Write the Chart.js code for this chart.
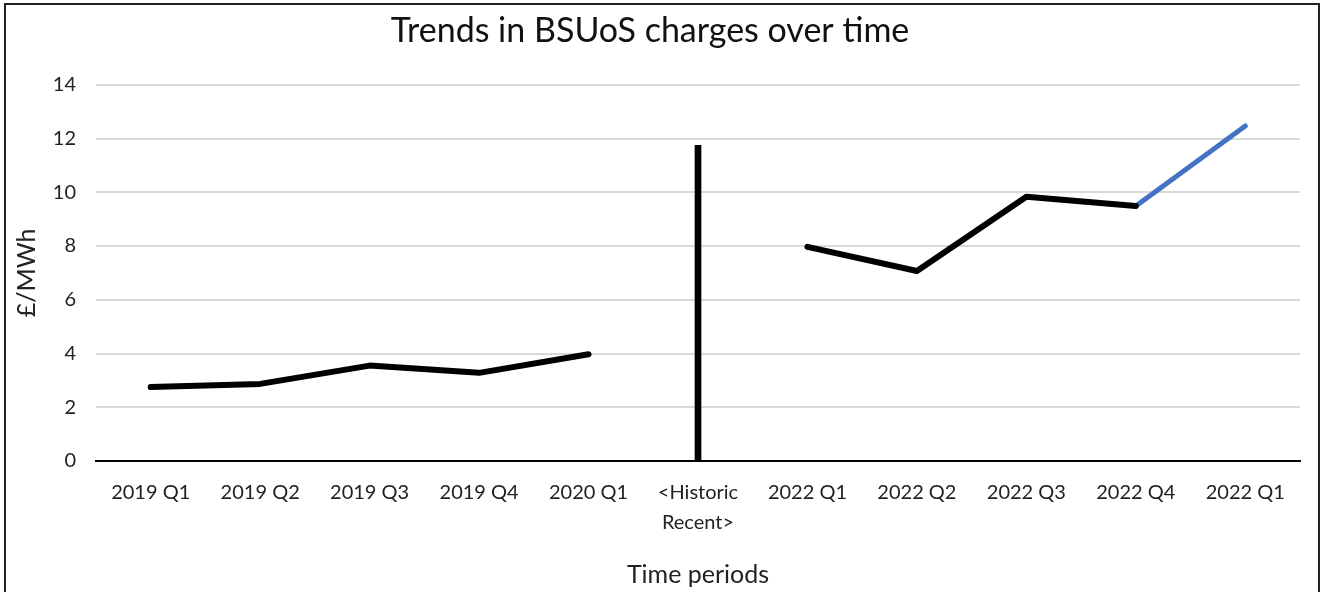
<!DOCTYPE html>
<html>
<head>
<meta charset="utf-8">
<script src="https://cdn.jsdelivr.net/npm/chart.js@4.4.1/dist/chart.umd.min.js"></script>
<style>
  html, body { margin: 0; padding: 0; background: #fff; overflow: hidden; }
  #wrap { position: absolute; left: 0; top: 0; width: 1325px; height: 592px; }
  #frame { position: absolute; left: 4px; top: 3px; width: 1312px; height: 620px;
           border: 2px solid #222; pointer-events: none; }
</style>
</head>
<body>
<div id="wrap"><canvas id="bsuosChart" width="1325" height="592"></canvas></div>
<div id="frame"></div>
<script>
    // category labels (the divider label is two lines)
    const periods = ['2019 Q1', '2019 Q2', '2019 Q3', '2019 Q4', '2020 Q1',
                     ['<Historic', 'Recent>'],
                     '2022 Q1', '2022 Q2', '2022 Q3', '2022 Q4', '2022 Q1'];

    // values, £/MWh
    const historicValues = [2.75, 2.87, 3.55, 3.28, 3.97, null, null, null, null, null, null];
    const recentValues   = [null, null, null, null, null, null, 7.97, 7.07, 9.83, 9.49, null];
    const forecastValues = [null, null, null, null, null, null, null, null, null, 9.49, 12.47];

    // vertical divider between historic and recent (floating bar from 0 to top)
    const dividerValues  = [null, null, null, null, null, [0, 11.75], null, null, null, null, null];

    const yTicks = [0, 2, 4, 6, 8, 10, 12, 14];

    const fontFamily = 'Lato, "Open Sans", sans-serif';

    var ctx = document.getElementById('bsuosChart').getContext('2d');

    const lineStyle = {
        type: 'line',
        borderWidth: 6,
        pointRadius: 0,
        pointHoverRadius: 0,
        borderCapStyle: 'round',
        borderJoinStyle: 'round',
        tension: 0,
        spanGaps: false,
        fill: false
    };

    new Chart(ctx, {
        type: 'line',
        data: {
            labels: periods,
            datasets: [
                Object.assign({}, lineStyle, { label: 'Historic', data: historicValues, borderColor: '#000' }),
                Object.assign({}, lineStyle, { label: 'Recent', data: recentValues, borderColor: '#000' }),
                Object.assign({}, lineStyle, { label: 'Forecast', data: forecastValues, borderColor: '#4472C4', borderWidth: 5 }),
                {
                    type: 'bar',
                    label: 'Divider',
                    data: dividerValues,
                    backgroundColor: '#000',
                    borderWidth: 0,
                    barThickness: 6,
                    grouped: false
                }
            ]
        },
        options: {
            responsive: false,
            animation: false,
            layout: { padding: { left: 0, right: 25, top: 0, bottom: 0 } },
            plugins: {
                legend: { display: false },
                tooltip: { enabled: false },
                title: {
                    display: true,
                    text: 'Trends in BSUoS charges over time',
                    color: '#111',
                    font: { family: fontFamily, size: 34, weight: 'normal', lineHeight: 1.2 },
                    padding: { top: 11, bottom: 33 }
                }
            },
            scales: {
                x: {
                    type: 'category',
                    offset: true,
                    grid: { display: false, drawTicks: false },
                    border: { display: true, color: '#000', width: 2 },
                    ticks: {
                        color: '#222',
                        autoSkip: false,
                        maxRotation: 0,
                        padding: 17,
                        font: { family: fontFamily, size: 20, lineHeight: 1.5 }
                    },
                    title: {
                        display: true,
                        text: 'Time periods',
                        color: '#222',
                        font: { family: fontFamily, size: 25, lineHeight: 1.2 },
                        padding: { top: 0, bottom: 2 }
                    },
                    afterFit: function (scale) { scale.height = 131; }
                },
                y: {
                    min: 0,
                    max: 14,
                    afterBuildTicks: function (scale) {
                        scale.ticks = yTicks.map(v => ({ value: v }));
                    },
                    grid: {
                        drawTicks: false,
                        color: '#d9d9d9',
                        lineWidth: 2
                    },
                    border: { display: false },
                    ticks: {
                        color: '#222',
                        padding: 20,
                        font: { family: fontFamily, size: 20 }
                    },
                    title: {
                        display: true,
                        text: '£/MWh',
                        color: '#222',
                        font: { family: fontFamily, size: 25, lineHeight: 1.2 },
                        padding: { top: 12, bottom: 0 }
                    },
                    afterFit: function (scale) { scale.width = 96; }
                }
            }
        }
    });
</script>
</body>
</html>
